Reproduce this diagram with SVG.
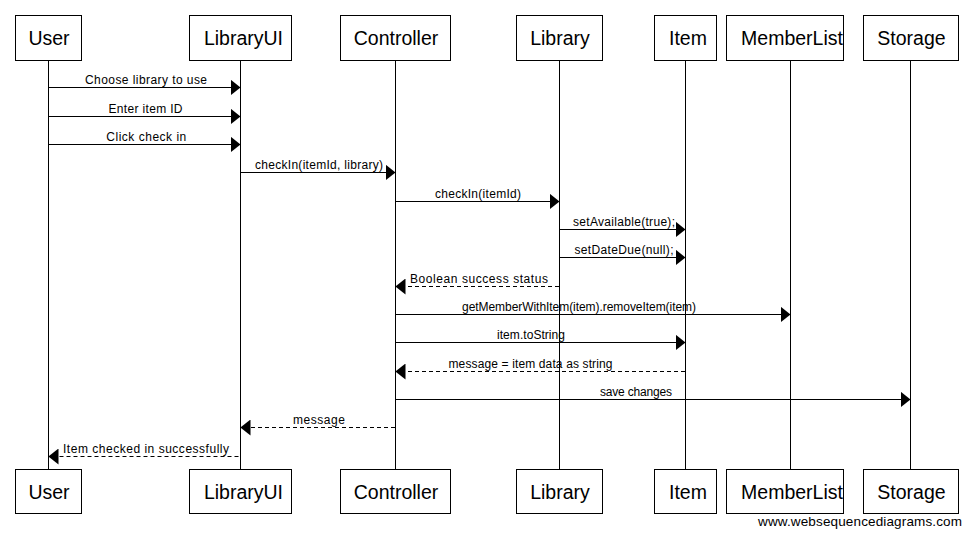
<svg xmlns="http://www.w3.org/2000/svg" width="972" height="537" viewBox="0 0 972 537">
<defs>
<marker id="ah" markerUnits="userSpaceOnUse" markerWidth="10" markerHeight="16" viewBox="0 0 10 16" refX="10" refY="8" orient="auto">
<path d="M0,0 L10,8 L0,16 Z" fill="#000"/>
</marker>
<style>
.box{fill:#fff;stroke:#000;stroke-width:1}
.life{stroke:#000;stroke-width:1}
.nt{font-family:"Liberation Sans",Arial,sans-serif;font-size:19.5px;fill:#000;text-anchor:middle}
.msg{stroke:#000;stroke-width:1;fill:none;marker-end:url(#ah)}
.ret{stroke-dasharray:4,3}
.ml{font-family:"Liberation Sans",Arial,sans-serif;font-size:12px;fill:#000;text-anchor:middle}
.wm{font-family:"Liberation Sans",Arial,sans-serif;font-size:13.5px;fill:#000;text-anchor:end}
</style>
</defs>
<rect width="972" height="537" fill="#fff"/>
<g id="lifelines">
<line class="life" x1="48.5" y1="60" x2="48.5" y2="469"/>
<line class="life" x1="240.5" y1="60" x2="240.5" y2="469"/>
<line class="life" x1="395.5" y1="60" x2="395.5" y2="469"/>
<line class="life" x1="559.5" y1="60" x2="559.5" y2="469"/>
<line class="life" x1="685.5" y1="60" x2="685.5" y2="469"/>
<line class="life" x1="790.5" y1="60" x2="790.5" y2="469"/>
<line class="life" x1="910.5" y1="60" x2="910.5" y2="469"/>
</g>
<g id="node-User">
<rect class="box" x="15.5" y="15.5" width="66" height="45"/>
<text class="nt" x="49" y="45">User</text>
<rect class="box" x="15.5" y="469.5" width="66" height="44"/>
<text class="nt" x="49" y="498.5">User</text>
</g>
<g id="node-LibraryUI">
<rect class="box" x="189.5" y="15.5" width="102" height="45"/>
<text class="nt" x="243.5" y="45">LibraryUI</text>
<rect class="box" x="189.5" y="469.5" width="102" height="44"/>
<text class="nt" x="243.5" y="498.5">LibraryUI</text>
</g>
<g id="node-Controller">
<rect class="box" x="340.5" y="15.5" width="110" height="45"/>
<text class="nt" x="396" y="45">Controller</text>
<rect class="box" x="340.5" y="469.5" width="110" height="44"/>
<text class="nt" x="396" y="498.5">Controller</text>
</g>
<g id="node-Library">
<rect class="box" x="516.5" y="15.5" width="86" height="45"/>
<text class="nt" x="560" y="45">Library</text>
<rect class="box" x="516.5" y="469.5" width="86" height="44"/>
<text class="nt" x="560" y="498.5">Library</text>
</g>
<g id="node-Item">
<rect class="box" x="654.5" y="15.5" width="62" height="45"/>
<text class="nt" x="688" y="45">Item</text>
<rect class="box" x="654.5" y="469.5" width="62" height="44"/>
<text class="nt" x="688" y="498.5">Item</text>
</g>
<g id="node-MemberList">
<rect class="box" x="726.5" y="15.5" width="117" height="45"/>
<text class="nt" x="792" y="45">MemberList</text>
<rect class="box" x="726.5" y="469.5" width="117" height="44"/>
<text class="nt" x="792" y="498.5">MemberList</text>
</g>
<g id="node-Storage">
<rect class="box" x="863.5" y="15.5" width="95" height="45"/>
<text class="nt" x="911.5" y="45">Storage</text>
<rect class="box" x="863.5" y="469.5" width="95" height="44"/>
<text class="nt" x="911.5" y="498.5">Storage</text>
</g>
<g id="connectors">
<line class="msg" x1="48.5" y1="87.5" x2="240.5" y2="87.5"/>
<text class="ml" x="146" y="84" textLength="122">Choose library to use</text>
<line class="msg" x1="48.5" y1="116.5" x2="240.5" y2="116.5"/>
<text class="ml" x="145.5" y="113" textLength="74">Enter item ID</text>
<line class="msg" x1="48.5" y1="144.5" x2="240.5" y2="144.5"/>
<text class="ml" x="146.3" y="141" textLength="80">Click check in</text>
<line class="msg" x1="240.5" y1="172.5" x2="395.5" y2="172.5"/>
<text class="ml" x="319" y="169" textLength="128">checkIn(itemId, library)</text>
<line class="msg" x1="395.5" y1="201.5" x2="559.5" y2="201.5"/>
<text class="ml" x="478" y="198" textLength="86">checkIn(itemId)</text>
<line class="msg" x1="559.5" y1="229.5" x2="685.5" y2="229.5"/>
<text class="ml" x="624" y="226" textLength="102">setAvailable(true);</text>
<line class="msg" x1="559.5" y1="257.5" x2="685.5" y2="257.5"/>
<text class="ml" x="624" y="254" textLength="99">setDateDue(null);</text>
<line class="msg ret" x1="559" y1="286.5" x2="395.5" y2="286.5"/>
<text class="ml" x="479" y="283" textLength="138">Boolean success status</text>
<line class="msg" x1="395.5" y1="314.5" x2="790.5" y2="314.5"/>
<text class="ml" x="579" y="311" textLength="234">getMemberWithItem(item).removeItem(item)</text>
<line class="msg" x1="395.5" y1="342.5" x2="685.5" y2="342.5"/>
<text class="ml" x="531" y="339" textLength="68">item.toString</text>
<line class="msg ret" x1="685" y1="371.5" x2="395.5" y2="371.5"/>
<text class="ml" x="530.5" y="368" textLength="164">message = item data as string</text>
<line class="msg" x1="395.5" y1="399.5" x2="910.5" y2="399.5"/>
<text class="ml" x="636" y="396" textLength="72">save changes</text>
<line class="msg ret" x1="395" y1="427.5" x2="240.5" y2="427.5"/>
<text class="ml" x="319" y="424" textLength="52">message</text>
<line class="msg ret" x1="238.5" y1="456.5" x2="48.5" y2="456.5"/>
<text class="ml" x="146" y="453" textLength="166">Item checked in successfully</text>
</g>
<text class="wm" x="962" y="526" textLength="204">www.websequencediagrams.com</text>
</svg>
